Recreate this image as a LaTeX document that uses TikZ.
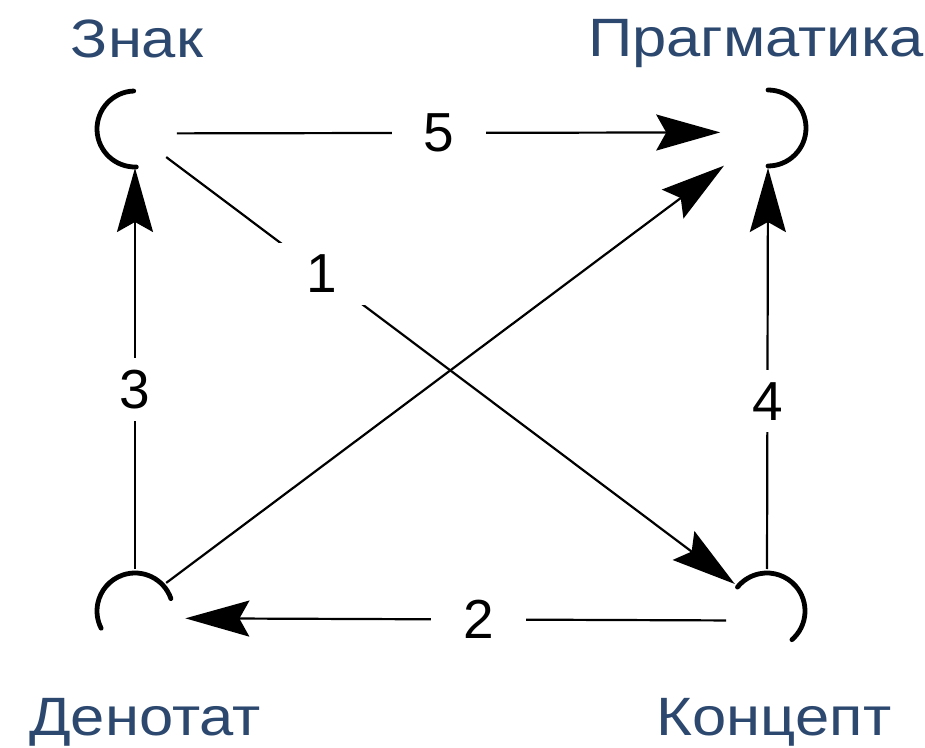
\documentclass[tikz,border=0pt]{standalone}
\usepackage{fontspec}
\setmainfont{Liberation Sans}
\newfontfamily\titlefont{Liberation Sans}[FakeStretch=1.14]
\usetikzlibrary{arrows.meta}
\definecolor{lblue}{RGB}{44,72,110}
\begin{document}
\begin{tikzpicture}[x=1pt,y=1pt,
  corner/.style={circle,minimum size=76pt,inner sep=0pt,outer sep=4pt},
  sock/.style={line width=4.8pt,line cap=round},
  conn/.style={line width=2.2pt,-{Stealth[length=64pt,width=36pt,inset=10pt]}},
  num/.style={fill=white,inner xsep=32pt,inner ysep=12pt,font=\fontsize{55}{60}\selectfont},
  title/.style={text=lblue,anchor=base,font=\titlefont\fontsize{54}{60}\selectfont}]
\useasboundingbox (0,0) rectangle (925,747);
\node[corner] (Z) at (135,618) {};
\node[corner] (P) at (768,619) {};
\node[corner] (D) at (135,136) {};
\node[corner] (K) at (767,136) {};
% sockets
\draw[sock] (Z.center) ++(92:38) arc[start angle=92,end angle=272,radius=38];
\draw[sock] (P.center) ++(90:38) arc[start angle=90,end angle=-90,radius=38];
\draw[sock] (D.center) ++(19:38) arc[start angle=19,end angle=207,radius=38];
\draw[sock] (K.center) ++(-49:38) arc[start angle=-49,end angle=141,radius=38];
% connectors
\draw[conn,shorten >=16pt] (D.42) -- (P.222);
\draw[conn] (Z.-42) -- node[num,pos=0.274] (n1) {1} (K.140);
\draw[conn,shorten >=6pt] (Z.-6) -- node[num,pos=0.477] (n5) {5} (P.186);
\draw[conn,shorten >=-3pt] (D.north) -- node[num,pos=0.45] (n3) {3} (Z.south);
\draw[conn,shorten >=-2pt] (K.north) -- node[num,pos=0.42] (n4) {4} (P.south);
\draw[conn,shorten >=9pt] (K.193) -- node[num,pos=0.45] (n2) {2} (D.-10);
% titles
\node[title] (tZ) at (137,689) {Знак};
\node[title] (tP) at (756,690) {Прагматика};
\node[title] (tD) at (145,12) {Денотат};
\node[title] (tK) at (774,12) {Концепт};
\end{tikzpicture}
\end{document}
